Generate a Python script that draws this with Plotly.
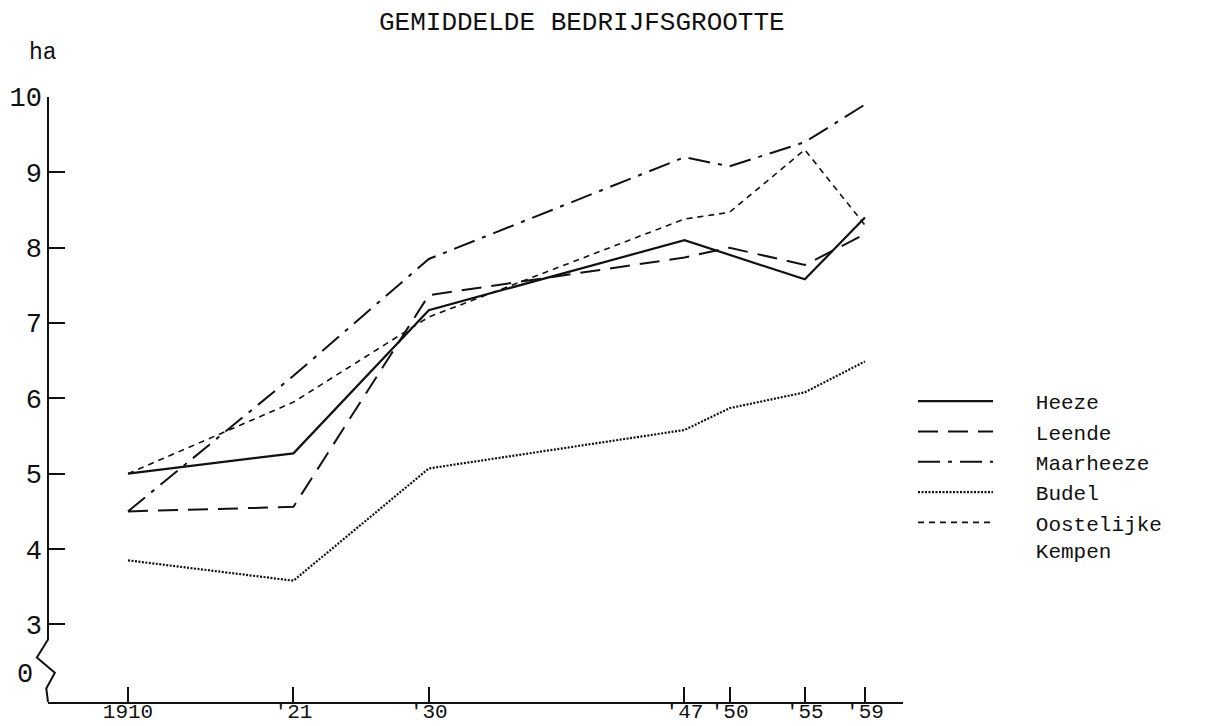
import plotly.graph_objects as go

# ---- data ----
years = [1910, 1921, 1930, 1947, 1950, 1955, 1959]
heeze = [5.0, 5.27, 7.17, 8.1, None, 7.58, 8.4]
leende = [4.5, 4.56, 7.37, 7.87, 8.0, 7.77, 8.18]
maarheeze = [4.5, 6.3, 7.85, 9.2, 9.08, 9.4, 9.9]
budel = [3.85, 3.58, 5.07, 5.58, 5.87, 6.08, 6.49]
oostelijke = [5.0, 5.95, 7.08, 8.38, 8.47, 9.3, 8.3]

x_tickvals = [1910, 1921, 1930, 1947, 1950, 1955, 1959]
x_ticktext = ["1910", "'21", "'30", "'47", "'50", "'55", "'59"]
y_tickvals = [3, 4, 5, 6, 7, 8, 9, 10]
y_ticktext = ["3", "4", "5", "6", "7", "8", "9", "10"]
zero_label_pos = 2.33   # where the broken axis shows "0"

FONT = "Liberation Mono, Courier New, monospace"
INK = "#111111"
NB = "\u00a0\u00a0\u00a0"

series = [
    ("Heeze", heeze, dict(color=INK, width=2.2, dash="solid")),
    ("Leende", leende, dict(color=INK, width=2.0, dash="20px,10px")),
    ("Maarheeze", maarheeze, dict(color=INK, width=2.0, dash="22px,8px,4px,8px")),
    ("Budel", budel, dict(color=INK, width=2.2, dash="2px,1.5px")),
    ("Oostelijke<br>Kempen", oostelijke, dict(color=INK, width=1.6, dash="6px,5px")),
]

fig = go.Figure()
for name, vals, line in series:
    label = NB + name.replace("<br>", "<br>" + NB)
    fig.add_trace(go.Scatter(x=years, y=vals, mode="lines", name=label,
                             line=line, connectgaps=True))

# y axis line with a break (zigzag) between 3 and 0
fig.add_shape(type="path", xref="paper", yref="y",
              path="M 0,10 L 0,2.8 L -0.013,2.56 L 0.008,2.36 L -0.002,2.15 L 0,1.97",
              line=dict(color=INK, width=2))

fig.update_layout(
    width=1208, height=726,
    margin=dict(l=40, r=313, t=89, b=32, autoexpand=False),
    paper_bgcolor="white", plot_bgcolor="white",
    font=dict(family=FONT, color=INK),
    showlegend=True,
    legend=dict(x=1.0117, xanchor="left", y=0.5306, yanchor="top",
                itemwidth=75, valign="top", tracegroupgap=0,
                font=dict(family=FONT, size=21, color=INK),
                bgcolor="rgba(0,0,0,0)"),
    xaxis=dict(range=[1904.68, 1961.53], tickvals=x_tickvals, ticktext=x_ticktext,
               ticks="inside", ticklen=15, tickwidth=1.5, tickcolor=INK,
               showline=True, linecolor=INK, linewidth=2, showgrid=False,
               zeroline=False, tickangle=0, automargin=False,
               tickfont=dict(family=FONT, size=21, color=INK),
               ticklabelstandoff=-11),
    yaxis=dict(range=[1.97, 10], tickvals=y_tickvals, ticktext=y_ticktext,
               ticks="inside", ticklen=17, tickwidth=1.5, tickcolor=INK,
               showline=False, showgrid=False, zeroline=False, automargin=False,
               ticklabelstandoff=5,
               tickfont=dict(family=FONT, size=27, color=INK)),
    annotations=[
        dict(text="GEMIDDELDE BEDRIJFSGROOTTE", xref="paper", yref="paper",
             x=0.6246, y=1.122, xanchor="center", yanchor="middle", showarrow=False,
             font=dict(family=FONT, size=26, color=INK)),
        dict(text="ha", xref="paper", yref="paper", x=-0.006, y=1.0727,
             xanchor="center", yanchor="middle",
             showarrow=False, font=dict(family=FONT, size=23, color=INK)),
        dict(text="0", xref="paper", yref="y", x=-0.027, y=zero_label_pos,
             xanchor="center", yanchor="middle",
             showarrow=False, font=dict(family=FONT, size=27, color=INK)),
    ],
)

fig.write_html("out.html")
